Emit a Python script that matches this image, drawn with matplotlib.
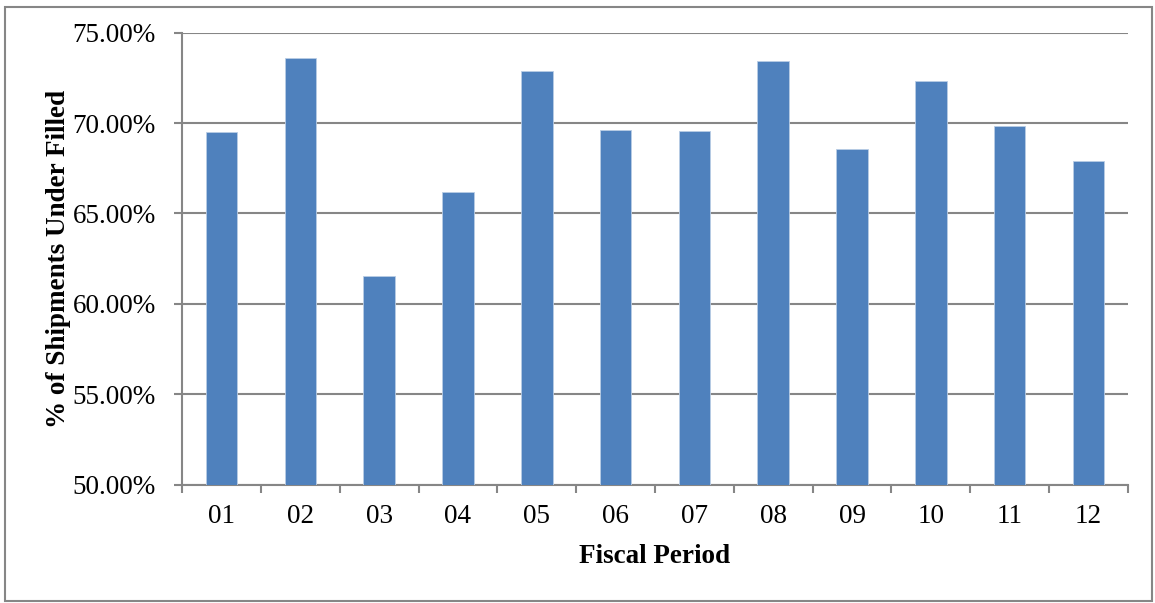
import matplotlib.pyplot as plt
from matplotlib.patches import Rectangle
from matplotlib.ticker import FuncFormatter, MultipleLocator
import numpy as np

plt.rcParams["font.family"] = ["Liberation Serif", "DejaVu Serif"]

periods = ["01", "02", "03", "04", "05", "06", "07", "08", "09", "10", "11", "12"]
under_filled = [69.50, 73.60, 61.53, 66.18, 72.88, 69.63, 69.56, 73.42, 68.56, 72.33, 69.83, 67.93]

BAR = "#4F81BD"
GRID = "#868686"
FS = 19.5

fig = plt.figure(figsize=(11.55, 6.03), dpi=100)
ax = fig.add_axes([0.1576, 0.1962, 0.8190, 0.7496])

x = np.arange(len(periods))
ax.bar(x, under_filled, width=0.40, color=BAR, edgecolor="#B9CDE5", linewidth=0.6, zorder=3)

ax.set_ylim(50, 75)
ax.set_xlim(-0.5, len(periods) - 0.5)
ax.yaxis.set_major_locator(MultipleLocator(5))
ax.yaxis.set_major_formatter(FuncFormatter(lambda v, _: f"{v:.2f}%"))
ax.grid(axis="y", color=GRID, linewidth=1.5, zorder=0)

ax.set_xticks(x)
ax.set_xticklabels(periods)
ax.set_xticks(np.arange(-0.5, len(periods)), minor=True)
ax.tick_params(axis="x", which="major", length=0, pad=14, labelsize=FS)
ax.tick_params(axis="x", which="minor", length=6, width=1.5, color=GRID)
ax.tick_params(axis="y", length=6, width=1.5, color=GRID, pad=13, labelsize=FS)

for side in ("top", "right"):
    ax.spines[side].set_visible(False)
for side in ("left", "bottom"):
    ax.spines[side].set_color(GRID)
    ax.spines[side].set_linewidth(1.5)

ax.set_xlabel("Fiscal Period", fontsize=FS, fontweight="bold", labelpad=11)
ax.set_ylabel("% of Shipments Under Filled", fontsize=FS, fontweight="bold", labelpad=1)

# thin gray frame round the whole chart
fig.patches.append(Rectangle((5 / 1155, 2 / 603), 1147 / 1155, 594 / 603,
                             transform=fig.transFigure, fill=False,
                             edgecolor=GRID, linewidth=1.5))

fig.savefig("out.png", dpi=100)
